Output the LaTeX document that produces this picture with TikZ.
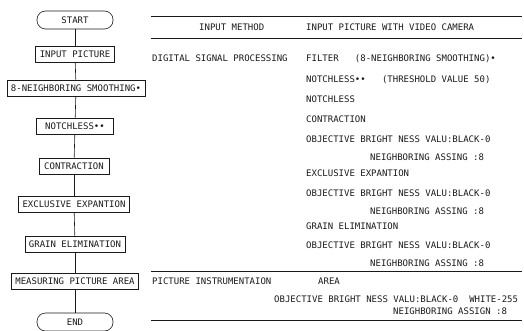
\documentclass[tikz,border=0pt]{standalone}
\usepackage{fontspec}
\usepackage{tikz}
\usetikzlibrary{positioning}
\newfontfamily\plotfont{DejaVu Sans Mono}
\definecolor{ink}{HTML}{1A1A1A}

\begin{document}
\begin{tikzpicture}[
  x=1pt, y=-1pt,
  every node/.style={font=\plotfont\fontsize{9}{10}\selectfont, text=ink},
  term/.style={draw=ink, rounded corners=8.5pt, minimum width=76pt, minimum height=18pt, inner sep=0pt, line width=0.6pt},
  stepbox/.style={draw=ink, minimum height=16pt, inner xsep=4pt, inner ysep=0pt, line width=0.6pt},
  flow/.style={line width=0.6pt, color=ink},
  rule/.style={line width=0.7pt, color=ink},
  txt/.style={anchor=west, inner sep=0pt, text height=6.6pt, text depth=0pt}
]
\useasboundingbox (0,0) rectangle (524,331);

% --- flowchart
\node[term]    (start) at (75,20)  {START};
\node[stepbox] (inp)   at (75,54)  {INPUT PICTURE};
\node[stepbox] (smo)   at (76,88)  {8-NEIGHBORING SMOOTHING•};
\node[stepbox, minimum width=77pt] (ntc) at (75,126) {NOTCHLESS••};
\node[stepbox, minimum width=70pt] (con) at (74,166) {CONTRACTION};
\node[stepbox] (exc)   at (74,204) {EXCLUSIVE EXPANTION};
\node[stepbox] (grn)   at (75,244) {GRAIN ELIMINATION};
\node[stepbox] (mea)   at (75,281) {MEASURING PICTURE AREA};
\node[term]    (stop)  at (75,322) {END};
\draw[flow] (start) -- (inp);
\draw[flow] (inp) -- (smo);
\draw[flow] (smo) -- (ntc);
\draw[flow] (ntc) -- (con);
\draw[flow] (con) -- (exc);
\draw[flow] (exc) -- (grn);
\draw[flow] (grn) -- (mea);
\draw[flow] (mea) -- (stop);

% --- table rules
\draw[rule] (151,16)  -- (522,16);
\draw[rule] (151,38)  -- (522,38);
\draw[rule] (151,271) -- (522,271);
\draw[rule] (151,320) -- (522,320);

% --- header
\node[txt] (hm) at (199,27) {INPUT METHOD};
\node[txt] (hv) at (306,27) {INPUT PICTURE WITH VIDEO CAMERA};

% --- digital signal processing
\node[txt] (dsp) at (152,58)  {DIGITAL SIGNAL PROCESSING};
\node[txt] (p1)  at (306,58)  {FILTER~~~(8-NEIGHBORING SMOOTHING)•};
\node[txt] (p2)  at (306,79)  {NOTCHLESS••~~~(THRESHOLD VALUE 50)};
\node[txt] (p3)  at (306,99)  {NOTCHLESS};
\node[txt] (p4)  at (306,119) {CONTRACTION};
\node[txt] (p5)  at (306,139) {OBJECTIVE BRIGHT NESS VALU:BLACK-0};
\node[txt] (p6)  at (370,157) {NEIGHBORING ASSING :8};
\node[txt] (p7)  at (306,173) {EXCLUSIVE EXPANTION};
\node[txt] (p8)  at (306,193) {OBJECTIVE BRIGHT NESS VALU:BLACK-0};
\node[txt] (p9)  at (370,211) {NEIGHBORING ASSING :8};
\node[txt] (p10) at (306,226) {GRAIN ELIMINATION};
\node[txt] (p11) at (306,245) {OBJECTIVE BRIGHT NESS VALU:BLACK-0};
\node[txt] (p12) at (370,263) {NEIGHBORING ASSING :8};

% --- picture instrumentation
\node[txt] (pin) at (152,281) {PICTURE INSTRUMENTAION};
\node[txt] (q1)  at (318,281) {AREA};
\node[txt] (q2)  at (274,299) {OBJECTIVE BRIGHT NESS VALU:BLACK-0~~WHITE-255};
\node[txt] (q3)  at (393,311) {NEIGHBORING ASSIGN :8};
\end{tikzpicture}
\end{document}
